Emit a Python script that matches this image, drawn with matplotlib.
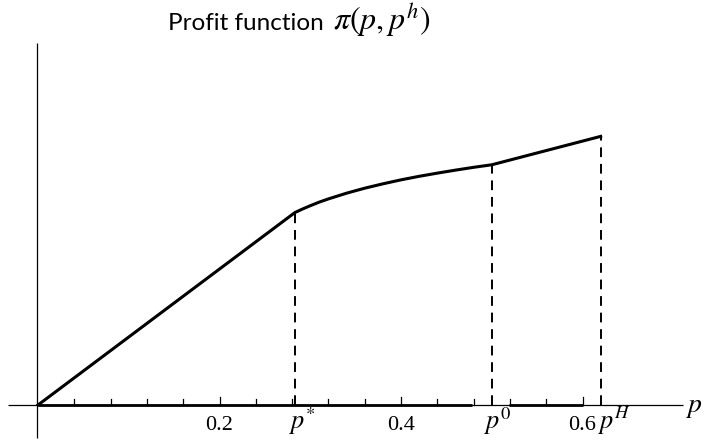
import matplotlib
matplotlib.use("Agg")
import matplotlib.pyplot as plt

plt.rcParams['mathtext.fontset'] = 'stix'

# Profit curve (p, profit)
p_vals = [0.0, 0.283, 0.290, 0.300, 0.310, 0.320, 0.340, 0.360, 0.380,
          0.400, 0.420, 0.440, 0.460, 0.480, 0.500, 0.620]
profit_vals = [0.0, 0.2120, 0.2153, 0.2196, 0.2236, 0.2271, 0.2334, 0.2389,
               0.2437, 0.2481, 0.2520, 0.2555, 0.2588, 0.2619, 0.2647, 0.2960]

# Marked prices and their profit levels
mark_p = [0.283, 0.500, 0.620]
mark_profit = [0.212, 0.2647, 0.296]
mark_labels = [r'$p^{*}$', r'$p^{0}$', r'$p^{H}$']

# Axis ticks
tick_vals = [0.2, 0.4, 0.6]
tick_labels = ['0.2', '0.4', '0.6']
minor_ticks = [0.04 * i for i in range(1, 16)]

# Thick segments along the horizontal axis
axis_segments = [(0.0, 0.478), (0.519, 0.600)]

W, H = 703, 440
X0, Y0, S = 38.0, 405.0, 907.5


def px(x):
    return (x - X0) / S


def py(y):
    return (Y0 - y) / S


fig = plt.figure(figsize=(W / 100, H / 100), dpi=100)
ax = fig.add_axes([0, 0, 1, 1])
ax.set_xlim(px(0), px(W))
ax.set_ylim(py(H), py(0))
ax.axis('off')

# axes lines
ax.plot([px(8), px(683)], [0, 0], color='black', lw=0.9, solid_capstyle='butt')
ax.plot([px(37), px(37)], [py(438), py(43)], color='black', lw=0.9,
        solid_capstyle='butt')

for a, b in axis_segments:
    ax.plot([a, b], [0, 0], color='black', lw=2.0, solid_capstyle='butt')

# ticks (drawn upward)
for t in minor_ticks:
    h = 6 / S
    if any(abs(t - m) < 1e-6 for m in tick_vals):
        h = 8 / S
    ax.plot([t, t], [0, h], color='black', lw=0.9)

for t, lab in zip(tick_vals, tick_labels):
    ax.text(t, py(430), lab, ha='center', va='baseline', fontsize=16,
            family='Liberation Serif')

label_left = [289, 484, 598]
for xl, lab in zip(label_left, mark_labels):
    ax.text(px(xl), py(429), lab, ha='left', va='baseline', fontsize=19)

ax.text(px(685), py(412), r'$p$', ha='left', va='baseline', fontsize=20)

# dashed verticals
for x, y in zip(mark_p, mark_profit):
    ax.plot([x, x], [0, y], color='black', lw=1.4, dashes=(5, 3.5))

# profit curve
ax.plot(p_vals, profit_vals, color='black', lw=2.2, solid_joinstyle='round')

fig.text(168 / W, 1 - 30 / H, 'Profit function', ha='left', va='baseline',
         fontsize=17.5, family='Lato')
fig.text(333 / W, 1 - 30 / H, r'$\pi(p,p^h)$', ha='left', va='baseline',
         fontsize=23)

fig.savefig('out.png', dpi=100, facecolor='white')
